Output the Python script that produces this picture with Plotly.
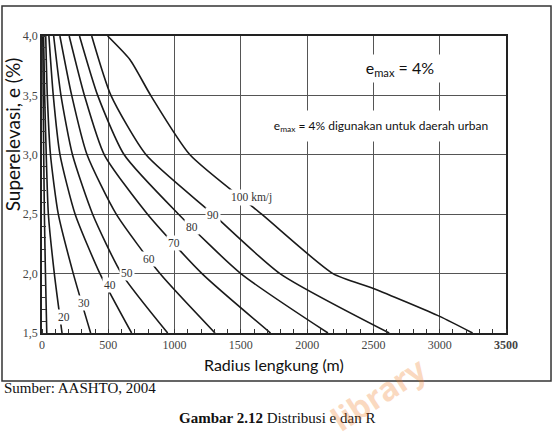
import plotly.graph_objects as go

# ---- data ----
speeds = ["15", "20", "30", "40", "50", "60", "70", "80", "90", "100"]
e_std = [4.0, 3.5, 3.0, 2.5, 2.0, 1.5]
R_15 = [6, 9, 13, 18, 26, 36]
R_20 = [12, 20, 32, 48, 93, 151]
R_30 = [28, 40, 64, 123, 236, 367]
R_40 = [52, 85, 136, 250, 437, 676]
R_50 = [88, 143, 230, 382, 600, 948]
R_60 = [135, 224, 340, 560, 890, 1305]
R_70 = [205, 320, 470, 796, 1207, 1724]
R_80 = [283, 420, 620, 1030, 1500, 2157]
R_90 = [375, 520, 785, 1290, 1795, 2619]
e_100 = [4.0, 3.8, 3.5, 3.0, 2.5, 2.0, 1.875, 1.64, 1.5]
R_100 = [495, 664, 820, 1116, 1657, 2195, 2500, 3000, 3248]
curves = [(R_15, e_std), (R_20, e_std), (R_30, e_std), (R_40, e_std), (R_50, e_std),
          (R_60, e_std), (R_70, e_std), (R_80, e_std), (R_90, e_std), (R_100, e_100)]

label_text = ["20", "30", "40", "50", "60", "70", "80", "90", "100 km/j"]
label_R = [166, 319, 511, 643, 807, 995, 1129, 1290, 1581]
label_e = [1.637, 1.752, 1.903, 2.004, 2.122, 2.257, 2.391, 2.492, 2.643]

x_ticks = [0, 500, 1000, 1500, 2000, 2500, 3000, 3500]
x_ticktext = ["0", "500", "1000", "1500", "2000", "2500", "3000", "<b>3500</b>"]
y_ticks = [1.5, 2.0, 2.5, 3.0, 3.5, 4.0]
y_ticktext = ["1,5", "2,0", "2,5", "3,0", "3,5", "4,0"]

fig = go.Figure()
for name, (R, e) in zip(speeds, curves):
    fig.add_trace(go.Scatter(x=R, y=e, mode="lines", name=name,
                             line=dict(color="#1a1a1a", width=1.6, shape="spline", smoothing=0.6),
                             showlegend=False, hoverinfo="skip"))

serif = "Liberation Serif"
sans = "Lato"

for t, x, y in zip(label_text, label_R, label_e):
    fig.add_annotation(x=x, y=y, text=t, showarrow=False, bgcolor="white",
                       xanchor="center", yanchor="middle",
                       font=dict(family=serif, size=11.5, color="#333"), borderpad=1)

# in-chart text boxes
fig.add_annotation(xref="paper", yref="paper", x=0.772, y=0.892, text="e<sub>max</sub> = 4%",
                   showarrow=False, bgcolor="white", width=140, height=25,
                   xanchor="center", yanchor="middle",
                   font=dict(family=sans, size=16, color="#111"))
fig.add_annotation(xref="paper", yref="paper", x=0.731, y=0.697,
                   text="e<sub>max</sub> = 4% digunakan untuk daerah urban",
                   showarrow=False, bgcolor="white", width=236, height=28,
                   xanchor="center", yanchor="middle",
                   font=dict(family=sans, size=12, color="#111"))

# axis titles
fig.add_annotation(xref="paper", yref="paper", x=0.5, y=-0.107, text="Radius lengkung (m)",
                   showarrow=False, font=dict(family=sans, size=16, color="#111"),
                   xanchor="center", yanchor="middle")
fig.add_annotation(xref="paper", yref="paper", x=-0.064, y=0.67, text="Superelevasi, e (%)",
                   showarrow=False, textangle=-90, font=dict(family=sans, size=19, color="#111"),
                   xanchor="center", yanchor="middle")

# caption below
fig.add_annotation(xref="paper", yref="paper", x=-0.087, y=-0.186, text="Sumber: AASHTO, 2004",
                   showarrow=False, xanchor="left", yanchor="middle",
                   font=dict(family=serif, size=15, color="#111"))
fig.add_annotation(xref="paper", yref="paper", x=0.507, y=-0.286,
                   text="<b>Gambar 2.12</b> Distribusi e dan R",
                   showarrow=False, xanchor="center", yanchor="middle",
                   font=dict(family=serif, size=15, color="#111"))

# watermark
fig.add_annotation(xref="paper", yref="paper", x=0.725, y=-0.205, text="<b>library</b>",
                   showarrow=False, textangle=-33, opacity=0.28,
                   xanchor="center", yanchor="middle",
                   font=dict(family="Noto Sans", size=32, color="#f07a20"))

# outer frame
fig.add_shape(type="rect", xref="paper", yref="paper", x0=-0.0862, x1=1.097, y0=-0.1616, y1=1.101,
              line=dict(color="#333", width=1.5), fillcolor="rgba(0,0,0,0)")

fig.update_xaxes(range=[0, 3500], tickvals=x_ticks, ticktext=x_ticktext,
                 showgrid=True, gridcolor="#555", gridwidth=1.2, zeroline=False,
                 showline=True, linecolor="#222", linewidth=1.5, mirror=True, ticks="",
                 tickfont=dict(family=serif, size=12, color="#444"),
                 minor=dict(dtick=100, ticks="inside", ticklen=4, tickcolor="#333", showgrid=False))
fig.update_yaxes(range=[1.5, 4.0], tickvals=y_ticks, ticktext=y_ticktext,
                 showgrid=True, gridcolor="#555", gridwidth=1.2, zeroline=False,
                 showline=True, linecolor="#222", linewidth=1.5, mirror=True, ticks="",
                 tickfont=dict(family=serif, size=12, color="#444"),
                 minor=dict(dtick=0.1, ticks="inside", ticklen=4, tickcolor="#333", showgrid=False))

fig.update_layout(width=555, height=442, margin=dict(l=42, r=49, t=36, b=109),
                  paper_bgcolor="white", plot_bgcolor="white")

fig.write_html("out.html")
